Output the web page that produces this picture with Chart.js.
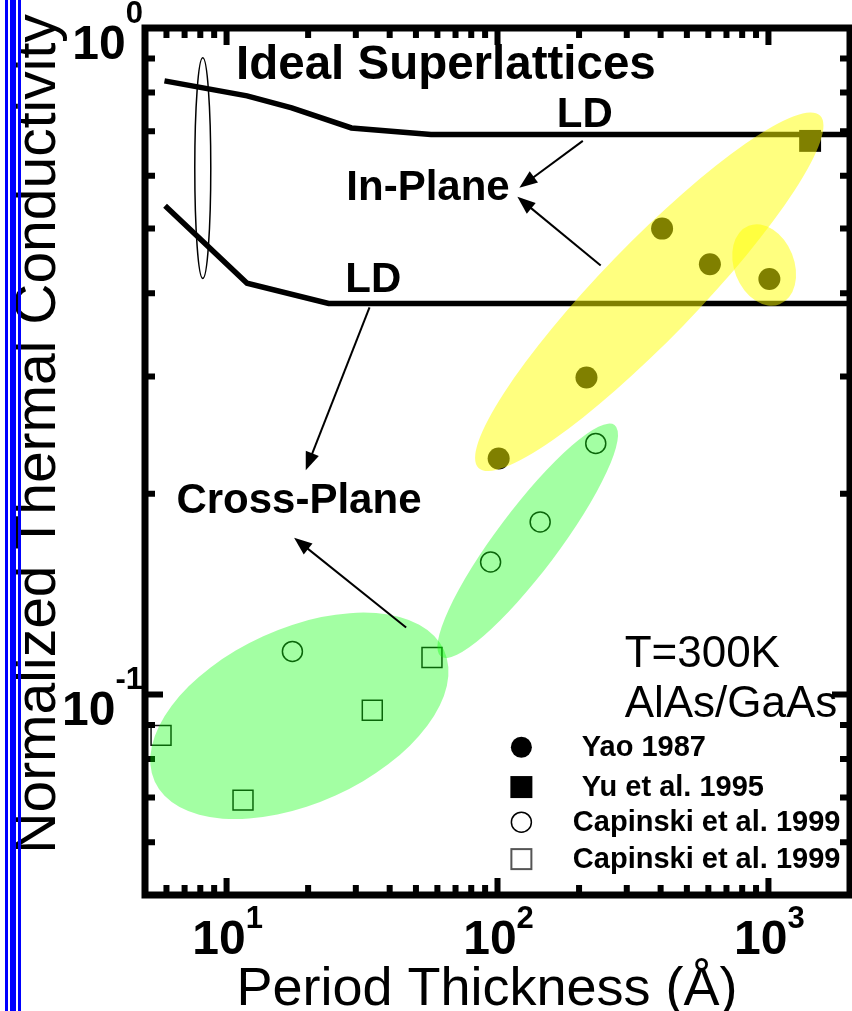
<!DOCTYPE html>
<html>
<head>
<meta charset="utf-8">
<script src="https://cdn.jsdelivr.net/npm/chart.js@4.4.1/dist/chart.umd.min.js"></script>
<style>
  html, body { margin: 0; padding: 0; background: #fff; overflow: hidden; }
  #wrap { position: relative; width: 852px; height: 1011px; }
  #chart { display: block; }
  .blue { position: absolute; top: 0; height: 1011px; background: #0000ff; }
</style>
</head>
<body>
<div id="wrap">
  <canvas id="chart" width="852" height="1011"></canvas>
  <div class="blue" style="left:5px;width:3px"></div>
  <div class="blue" style="left:10px;width:6px"></div>
  <div class="blue" style="left:18px;width:3px"></div>
</div>
<script>
// ideal superlattice curves (LD model)
var inPlaneX = [5.9, 11.9, 17.4, 28.9, 56.8, 2000];
var inPlaneY = [0.833, 0.791, 0.759, 0.708, 0.692, 0.692];
var crossPlaneX = [5.93, 11.9, 23.8, 2000];
var crossPlaneY = [0.541, 0.414, 0.386, 0.386];

// measurements
var yaoX = [101, 213, 405, 608, 1008];
var yaoY = [0.226, 0.299, 0.500, 0.442, 0.420];
var yuX = [1425];
var yuY = [0.677];
var capCircX = [17.5, 94.3, 143.7, 230.5];
var capCircY = [0.116, 0.158, 0.1815, 0.238];
var capSqX = [5.73, 11.5, 34.5, 57.3];
var capSqY = [0.0868, 0.0694, 0.0947, 0.1136];

var seriesLabels = ["Yao 1987", "Yu et al. 1995", "Capinski et al. 1999", "Capinski et al. 1999"];

// axis ticks
var xTickValues = [10, 100, 1000];
var xTickExp = ["1", "2", "3"];
var yTickValues = [1, 0.1];
var yTickExp = ["0", "-1"];
var xMinor = [6, 7, 8, 9, 20, 30, 40, 50, 60, 70, 80, 90, 200, 300, 400, 500, 600, 700, 800, 900];
var yMinor = [0.06, 0.07, 0.08, 0.09, 0.2, 0.3, 0.4, 0.5, 0.6, 0.7, 0.8, 0.9];

function pts(xs, ys) {
  return xs.map(function (v, i) { return { x: v, y: ys[i] }; });
}

var FONT = '"Liberation Sans", Arial, Helvetica, sans-serif';

// annotation anchors, in data units
var notes = {
  texts: [
    { t: "Ideal Superlattices", x: 64.5, y: 0.877, size: 47.5 },
    { t: "LD", x: 210, y: 0.739, size: 42 },
    { t: "In-Plane", x: 55.4, y: 0.574, size: 42 },
    { t: "LD", x: 34.8, y: 0.418, size: 42 },
    { t: "Cross-Plane", x: 18.5, y: 0.1945, size: 42 }
  ],
  arrows: [
    [206.5, 0.677, 120.4, 0.576],
    [240.4, 0.440, 118.4, 0.558],
    [33.7, 0.381, 19.6, 0.217],
    [46.0, 0.126, 17.75, 0.1718]
  ],
  // shaded groups: tips of the long axis, plus half of the short axis in px
  blobs: [
    { x1: 85.1, y1: 0.2187, x2: 1550, y2: 0.739, b: 48, color: "rgba(255,255,0,0.5)" },
    { x1: 845, y1: 0.505, x2: 1100, y2: 0.385, b: 30, color: "rgba(255,255,0,0.5)" },
    { x1: 5.43, y1: 0.0740, x2: 63.5, y2: 0.1165, b: 87.5, color: "rgba(0,255,0,0.36)" },
    { x1: 61.8, y1: 0.114, x2: 270.4, y2: 0.2536, b: 31, color: "rgba(0,255,0,0.36)" }
  ],
  ring: { x: 8.17, y1: 0.902, y2: 0.421, b: 8 },
  cond: { x: 294.6, y1: 0.1148, y2: 0.0963 },
  legendMarkX: 122.5,
  legendTextX: [204.7, 204.7, 189.7, 189.7],
  legendY: [0.0833, 0.0726, 0.0643, 0.0566]
};

var figure = {
  id: "figure",
  afterDraw: function (chart) {
    var ctx = chart.ctx, a = chart.chartArea;
    var xs = chart.scales.x, ys = chart.scales.y;
    function px(v) { return xs.getPixelForValue(v); }
    function py(v) { return ys.getPixelForValue(v); }

    ctx.save();
    // frame
    ctx.strokeStyle = "#000";
    ctx.lineWidth = 7;
    ctx.strokeRect(a.left, a.top, a.right - a.left, a.bottom - a.top);

    // inward ticks on all four sides
    ctx.lineWidth = 6;
    ctx.lineCap = "butt";
    function xt(v, len) {
      var p = px(v);
      ctx.beginPath();
      ctx.moveTo(p, a.bottom); ctx.lineTo(p, a.bottom - len);
      ctx.moveTo(p, a.top); ctx.lineTo(p, a.top + len);
      ctx.stroke();
    }
    function yt(v, len) {
      var p = py(v);
      ctx.beginPath();
      ctx.moveTo(a.left, p); ctx.lineTo(a.left + len, p);
      ctx.moveTo(a.right, p); ctx.lineTo(a.right - len, p);
      ctx.stroke();
    }
    xMinor.forEach(function (v) { xt(v, 10); });
    xTickValues.forEach(function (v) { xt(v, 17); });
    yMinor.forEach(function (v) { yt(v, 10); });
    yTickValues.forEach(function (v) { yt(v, 18); });

    // shaded groups
    notes.blobs.forEach(function (e) {
      var x1 = px(e.x1), y1 = py(e.y1), x2 = px(e.x2), y2 = py(e.y2);
      var semi = Math.hypot(x2 - x1, y2 - y1) / 2;
      ctx.beginPath();
      ctx.ellipse((x1 + x2) / 2, (y1 + y2) / 2, semi, e.b, Math.atan2(y2 - y1, x2 - x1), 0, Math.PI * 2);
      ctx.fillStyle = e.color;
      ctx.fill();
    });

    // thin ring around the two curves
    var r = notes.ring, rt = py(r.y1), rb = py(r.y2);
    ctx.beginPath();
    ctx.ellipse(px(r.x), (rt + rb) / 2, r.b, (rb - rt) / 2, 0, 0, Math.PI * 2);
    ctx.lineWidth = 1.5;
    ctx.strokeStyle = "#000";
    ctx.stroke();

    // arrows
    ctx.fillStyle = "#000";
    notes.arrows.forEach(function (ar) {
      var x1 = px(ar[0]), y1 = py(ar[1]), x2 = px(ar[2]), y2 = py(ar[3]);
      var ang = Math.atan2(y2 - y1, x2 - x1), c = Math.cos(ang), s = Math.sin(ang);
      var L = 18, W = 7;
      ctx.beginPath();
      ctx.moveTo(x1, y1);
      ctx.lineTo(x2 - L * 0.7 * c, y2 - L * 0.7 * s);
      ctx.lineWidth = 2;
      ctx.stroke();
      ctx.beginPath();
      ctx.moveTo(x2, y2);
      ctx.lineTo(x2 - L * c + W * s, y2 - L * s - W * c);
      ctx.lineTo(x2 - L * c - W * s, y2 - L * s + W * c);
      ctx.closePath();
      ctx.fill();
    });

    // tick labels: 10 with a raised exponent
    var big = "bold 48px " + FONT, small = "bold 31px " + FONT;
    ctx.textAlign = "left";
    ctx.textBaseline = "alphabetic";
    xTickValues.forEach(function (v, i) {
      ctx.font = big; var w1 = ctx.measureText("10").width;
      ctx.font = small; var w2 = ctx.measureText(xTickExp[i]).width;
      var left = px(v) - (w1 + w2) / 2 + 1;
      ctx.font = big; ctx.fillText("10", left, 954);
      ctx.font = small; ctx.fillText(xTickExp[i], left + w1, 928);
    });
    yTickValues.forEach(function (v, i) {
      ctx.font = big; var w1 = ctx.measureText("10").width;
      ctx.font = small; var w2 = ctx.measureText(yTickExp[i]).width;
      var left = a.left - 2 - (w1 + w2), p = py(v);
      ctx.font = big; ctx.fillText("10", left, p + 31);
      ctx.font = small; ctx.fillText(yTickExp[i], left + w1, p - 5);
    });

    // axis titles
    ctx.font = "54px " + FONT;
    ctx.textAlign = "center";
    ctx.fillText("Period Thickness (\u00C5)", 487, 1005);
    ctx.save();
    ctx.translate(55, 434);
    ctx.rotate(-Math.PI / 2);
    ctx.font = "57px " + FONT;
    ctx.fillText("Normalized Thermal Conductivity", 0, 0);
    ctx.restore();

    // labels
    ctx.textBaseline = "middle";
    notes.texts.forEach(function (t) {
      ctx.font = "bold " + t.size + "px " + FONT;
      ctx.fillText(t.t, px(t.x), py(t.y));
    });
    ctx.textAlign = "left";
    ctx.font = "44px " + FONT;
    ctx.fillText("T=300K", px(notes.cond.x), py(notes.cond.y1));
    ctx.fillText("AlAs/GaAs", px(notes.cond.x), py(notes.cond.y2));

    // legend
    var mx = px(notes.legendMarkX);
    ctx.font = "bold 29px " + FONT;
    seriesLabels.forEach(function (lab, i) {
      var yy = py(notes.legendY[i]);
      ctx.beginPath();
      if (i === 0) { ctx.arc(mx, yy, 10.5, 0, Math.PI * 2); ctx.fillStyle = "#000"; ctx.fill(); }
      if (i === 1) { ctx.fillStyle = "#000"; ctx.fillRect(mx - 11, yy - 11, 22, 22); }
      if (i === 2) { ctx.arc(mx, yy, 10, 0, Math.PI * 2); ctx.lineWidth = 1.5; ctx.strokeStyle = "#000"; ctx.stroke(); }
      if (i === 3) { ctx.lineWidth = 2; ctx.strokeStyle = "#555"; ctx.strokeRect(mx - 10, yy - 10, 20, 20); }
      ctx.fillStyle = "#000";
      ctx.fillText(lab, px(notes.legendTextX[i]), yy + 1);
    });
    ctx.restore();
  }
};

new Chart(document.getElementById("chart"), {
  type: "scatter",
  data: {
    datasets: [
      { label: "In-Plane LD", data: pts(inPlaneX, inPlaneY), showLine: true, borderColor: "#000",
        borderWidth: 5.5, pointRadius: 0, tension: 0, fill: false },
      { label: "Cross-Plane LD", data: pts(crossPlaneX, crossPlaneY), showLine: true, borderColor: "#000",
        borderWidth: 5.5, pointRadius: 0, tension: 0, fill: false },
      { label: seriesLabels[0], data: pts(yaoX, yaoY), pointStyle: "circle", pointRadius: 11,
        backgroundColor: "#000", borderColor: "#000", borderWidth: 0 },
      { label: seriesLabels[1], data: pts(yuX, yuY), pointStyle: "rect", pointRadius: 15.5,
        backgroundColor: "#000", borderColor: "#000", borderWidth: 0 },
      { label: seriesLabels[2], data: pts(capCircX, capCircY), pointStyle: "circle", pointRadius: 10,
        backgroundColor: "rgba(0,0,0,0)", borderColor: "#111", borderWidth: 1.5 },
      { label: seriesLabels[3], data: pts(capSqX, capSqY), pointStyle: "rect", pointRadius: 14.1,
        backgroundColor: "rgba(0,0,0,0)", borderColor: "#111", borderWidth: 1.5 }
    ]
  },
  options: {
    responsive: false,
    animation: false,
    devicePixelRatio: 1,
    clip: false,
    layout: { autoPadding: false, padding: { left: 145, right: 2, top: 28, bottom: 116 } },
    plugins: { legend: { display: false }, tooltip: { enabled: false } },
    scales: {
      x: { type: "logarithmic", min: 5, max: 2000, display: false },
      y: { type: "logarithmic", min: 0.05, max: 1, display: false }
    }
  },
  plugins: [figure]
});
</script>
</body>
</html>
